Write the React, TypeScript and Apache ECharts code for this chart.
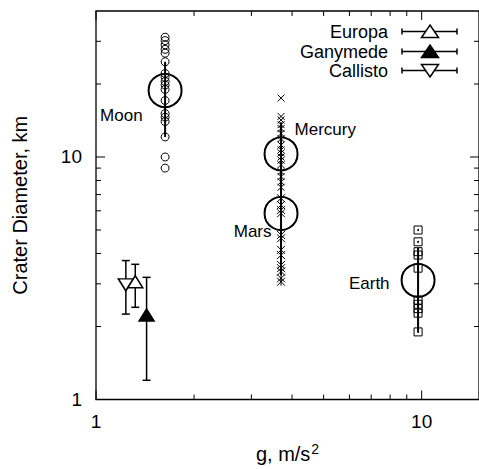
import React, { useEffect, useRef } from "react";
import * as echarts from "echarts";

// ---- axis ranges / ticks ----
const X_RANGE = [1, 15];
const Y_RANGE = [1, 40];
const xLabelTicks = [1, 10];
const yLabelTicks = [1, 10];
const xMajorTicks = [1, 10];
const xMinorTicks = [2, 3, 4, 5, 6, 7, 8, 9];
const yMajorTicks = [1, 10];
const yMinorTicks = [2, 3, 4, 5, 6, 7, 8, 9, 20, 30];

// ---- individual crater measurements ----
const moonG = 1.63;
const moonCraters = [31.2, 30.2, 29.0, 27.8, 26.8, 24.7, 22.1, 21.3, 20.5, 19.8, 19.0, 17.1, 15.1, 14.6, 14.0, 12.1, 10.0, 9.0];
const mercuryG = 3.7;
const mercuryCraters = [17.5, 14.7, 14.2, 13.6, 13.1, 12.5, 11.9, 11.2, 10.7, 10.4, 10.0, 9.7, 9.3, 8.7, 8.3, 7.9, 7.5];
const marsG = 3.7;
const marsCraters = [6.76, 6.34, 6.04, 5.86, 4.77, 4.62, 4.14, 3.94, 3.59, 3.48, 3.37, 3.16, 3.06];
const earthG = 9.75;
const earthCraters = [5.0, 4.47, 4.07, 3.94, 3.48, 2.57, 2.47, 2.37, 2.27, 1.9];

// ---- planet averages ----
const planetNames = ["Moon", "Mercury", "Mars", "Earth"];
const planetG = [1.63, 3.7, 3.7, 9.75];
const planetMean = [18.8, 10.3, 5.85, 3.1];
const planetLow = [12.1, 7.3, 3.26, 1.9];
const planetHigh = [24.7, 13.9, 8.0, 4.22];

// ---- icy satellites ----
const icyNames = ["Europa", "Ganymede", "Callisto"];
const icyG = [1.32, 1.43, 1.235];
const icyMean = [3.06, 2.23, 2.97];
const icyLow = [2.4, 1.2, 2.25];
const icyHigh = [3.61, 3.19, 3.74];

const FONT = "'Liberation Sans', Arial, Helvetica, sans-serif";

function tickSeries(values: number[], dir: "x" | "y", len: number) {
  return {
    type: "custom",
    silent: true,
    clip: false,
    z: 5,
    data: values.map((v) => (dir === "x" ? [v, Y_RANGE[0]] : [X_RANGE[0], v])),
    renderItem: (params: any, api: any) => {
      const v = dir === "x" ? api.value(0) : api.value(1);
      let a, b;
      if (dir === "x") {
        a = api.coord([v, Y_RANGE[0]]);
        b = api.coord([v, Y_RANGE[1]]);
        return {
          type: "group",
          children: [
            { type: "line", shape: { x1: a[0], y1: a[1], x2: a[0], y2: a[1] - len }, style: { stroke: "#000", lineWidth: 1 } },
            { type: "line", shape: { x1: b[0], y1: b[1], x2: b[0], y2: b[1] + len }, style: { stroke: "#000", lineWidth: 1 } },
          ],
        };
      }
      a = api.coord([X_RANGE[0], v]);
      b = api.coord([X_RANGE[1], v]);
      return {
        type: "group",
        children: [
          { type: "line", shape: { x1: a[0], y1: a[1], x2: a[0] + len, y2: a[1] }, style: { stroke: "#000", lineWidth: 1 } },
          { type: "line", shape: { x1: b[0], y1: b[1], x2: b[0] - len, y2: b[1] }, style: { stroke: "#000", lineWidth: 1 } },
        ],
      };
    },
  };
}

function errorBarSeries(xs: number[], lows: number[], highs: number[], cap: number, width: number) {
  return {
    type: "custom",
    silent: true,
    z: 2,
    encode: { x: 0, y: [1, 2] },
    data: xs.map((x, i) => [x, lows[i], highs[i]]),
    renderItem: (params: any, api: any) => {
      const lo = api.coord([api.value(0), api.value(1)]);
      const hi = api.coord([api.value(0), api.value(2)]);
      const children: any[] = [
        { type: "line", shape: { x1: lo[0], y1: lo[1], x2: hi[0], y2: hi[1] }, style: { stroke: "#000", lineWidth: width } },
      ];
      if (cap > 0) {
        children.push({ type: "line", shape: { x1: lo[0] - cap, y1: lo[1], x2: lo[0] + cap, y2: lo[1] }, style: { stroke: "#000", lineWidth: 1.5 } });
        children.push({ type: "line", shape: { x1: hi[0] - cap, y1: hi[1], x2: hi[0] + cap, y2: hi[1] }, style: { stroke: "#000", lineWidth: 1.5 } });
      }
      return { type: "group", children };
    },
  };
}

const labelPlacement: Record<string, any> = {
  Moon: { position: "left", offset: [0, 25] },
  Mercury: { position: "right", offset: [-9, -24] },
  Mars: { position: "left", offset: [13, 18] },
  Earth: { position: "left", offset: [-6, 3] },
};

const icyStyle: Record<string, any> = {
  Europa: { fill: "#fff", rotate: 0 },
  Ganymede: { fill: "#000", rotate: 0 },
  Callisto: { fill: "#fff", rotate: 180 },
};

function legendGraphics() {
  const rows = [31.5, 51.5, 70.5];
  const els: any[] = [];
  icyNames.forEach((name, i) => {
    const y = rows[i];
    els.push({
      type: "text",
      x: 388,
      y,
      style: { text: name, fill: "#000", fontSize: 18, fontFamily: FONT, align: "right", verticalAlign: "middle" },
    });
    els.push({ type: "line", shape: { x1: 402, y1: y, x2: 457, y2: y }, style: { stroke: "#000", lineWidth: 1.5 } });
    els.push({ type: "line", shape: { x1: 402, y1: y - 3, x2: 402, y2: y + 3 }, style: { stroke: "#000", lineWidth: 1.5 } });
    els.push({ type: "line", shape: { x1: 457, y1: y - 3, x2: 457, y2: y + 3 }, style: { stroke: "#000", lineWidth: 1.5 } });
    const up = icyStyle[name].rotate === 0;
    const pts = up
      ? [[430, y - 6.5], [438.5, y + 6], [421.5, y + 6]]
      : [[430, y + 6.5], [438.5, y - 6], [421.5, y - 6]];
    els.push({ type: "polygon", shape: { points: pts }, style: { fill: icyStyle[name].fill, stroke: "#000", lineWidth: 1.5 } });
  });
  return els;
}

export default function App() {
  const ref = useRef<HTMLDivElement>(null);
  useEffect(() => {
    if (!ref.current) return;
    const chart = echarts.init(ref.current, null, { renderer: "svg" });
    const labelFmt = (allowed: number[]) => (v: number) => {
      const hit = allowed.find((a) => Math.abs(v - a) / a < 1e-6);
      return hit !== undefined ? String(hit) : "";
    };
    const hollow = { color: "transparent", borderColor: "#000", borderWidth: 1, opacity: 1 };
    const series: any[] = [
      tickSeries(xMajorTicks, "x", 9),
      tickSeries(xMinorTicks, "x", 5),
      tickSeries(yMajorTicks, "y", 9),
      tickSeries(yMinorTicks, "y", 5),
      errorBarSeries(planetG, planetLow, planetHigh, 0, 2),
      errorBarSeries(icyG, icyLow, icyHigh, 4, 1.5),
      {
        type: "scatter",
        name: "Moon craters",
        z: 3,
        symbol: "circle",
        symbolSize: 8,
        itemStyle: hollow,
        data: moonCraters.map((d) => [moonG, d]),
      },
      {
        type: "scatter",
        name: "Mercury craters",
        z: 3,
        symbol: "path://M0,0L8,8M8,0L0,8",
        symbolSize: 7,
        itemStyle: hollow,
        data: mercuryCraters.map((d) => [mercuryG, d]),
      },
      {
        type: "scatter",
        name: "Mars craters",
        z: 3,
        symbol: "path://M0,0L8,8M8,0L0,8M4,0L4,8",
        symbolSize: 8,
        itemStyle: hollow,
        data: marsCraters.map((d) => [marsG, d]),
      },
      {
        type: "scatter",
        name: "Earth craters",
        z: 3,
        symbol: "rect",
        symbolSize: 8,
        itemStyle: hollow,
        data: earthCraters.map((d) => [earthG, d]),
      },
      {
        type: "scatter",
        name: "Earth crater centers",
        z: 3,
        symbol: "circle",
        symbolSize: 2,
        itemStyle: { color: "#000", opacity: 1 },
        data: earthCraters.map((d) => [earthG, d]),
      },
      {
        type: "scatter",
        name: "Planet means",
        z: 4,
        symbol: "circle",
        symbolSize: 33,
        itemStyle: { color: "transparent", borderColor: "#000", borderWidth: 2, opacity: 1 },
        label: { show: true, formatter: "{b}", color: "#000", fontSize: 17, fontFamily: FONT, distance: 5 },
        data: planetNames.map((n, i) => ({
          name: n,
          value: [planetG[i], planetMean[i]],
          label: { ...labelPlacement[n], color: "#000" },
        })),
      },
      ...["Callisto", "Europa", "Ganymede"].map((n) => {
        const i = icyNames.indexOf(n);
        return {
          type: "scatter",
          name: n,
          z: 4,
          symbol: "triangle",
          symbolSize: [15, 12],
          symbolRotate: icyStyle[n].rotate,
          itemStyle: { color: icyStyle[n].fill, borderColor: "#000", borderWidth: 1.5, opacity: 1 },
          data: [[icyG[i], icyMean[i]]],
        };
      }),
    ];

    chart.setOption({
      animation: false,
      backgroundColor: "#fff",
      textStyle: { fontFamily: FONT },
      grid: { left: 96, right: -5, top: 11, bottom: 69.5, show: true, borderColor: "#000", borderWidth: 1.3, backgroundColor: "transparent" },
      xAxis: {
        type: "log",
        logBase: 10,
        min: X_RANGE[0],
        max: X_RANGE[1],
        axisLine: { show: false },
        axisTick: { show: false },
        splitLine: { show: false },
        axisLabel: { formatter: labelFmt(xLabelTicks), color: "#000", fontSize: 19, fontFamily: FONT, margin: 12, showMaxLabel: false },
        name: "g, m/s{sup|2}",
        nameLocation: "middle",
        nameGap: 42,
        nameTextStyle: {
          color: "#000",
          fontSize: 20,
          fontFamily: FONT,
          rich: { sup: { fontSize: 14, fontFamily: FONT, color: "#000", verticalAlign: "top", padding: [0, 0, 10, 1] } },
        },
      },
      yAxis: {
        type: "log",
        logBase: 10,
        min: Y_RANGE[0],
        max: Y_RANGE[1],
        axisLine: { show: false },
        axisTick: { show: false },
        splitLine: { show: false },
        axisLabel: { formatter: labelFmt(yLabelTicks), color: "#000", fontSize: 19, fontFamily: FONT, margin: 14, showMaxLabel: false },
        name: "Crater Diameter, km",
        nameLocation: "middle",
        nameGap: 66,
        nameTextStyle: { color: "#000", fontSize: 20, fontFamily: FONT },
      },
      graphic: legendGraphics(),
      series,
    });
    return () => chart.dispose();
  }, []);
  return <div ref={ref} style={{ position: "absolute", left: 0, top: 0, width: 479, height: 469 }} />;
}
